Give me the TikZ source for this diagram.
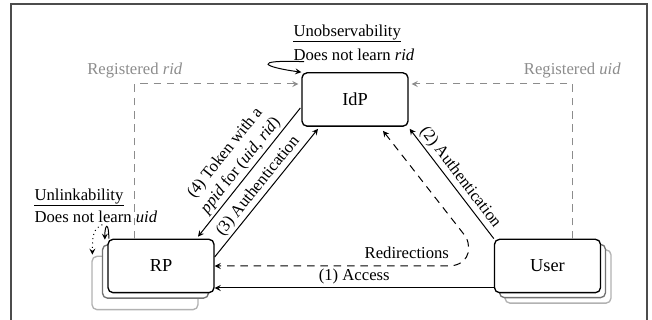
\documentclass[tikz,border=0pt]{standalone}
\usepackage{fontspec}
\setmainfont{Liberation Serif}
\usetikzlibrary{calc}

\begin{document}
\begin{tikzpicture}[>=stealth, x=0.6pt, y=-0.6pt, line width=0.6pt,
    party/.style={draw, line width=0.8pt, rounded corners=3pt, fill=white,
      minimum width=63.6pt, minimum height=32pt, font=\fontsize{11}{13}\selectfont},
    copyA/.style={party, draw=black!55},
    copyB/.style={party, draw=black!30},
    reg/.style={->, black!45, dash pattern=on 4.5pt off 3.5pt},
    redir/.style={<->, dash pattern=on 4.5pt off 3.5pt},
    note/.style={inner xsep=0pt, inner ysep=1pt},
    lbl/.style={sloped, above, inner sep=1.5pt}]
  \useasboundingbox (0,0) rectangle (652,320);

  % Frame, open at the bottom
  \draw[black!70, line width=0.8pt] (11,330) -- (11,4) -- (647,4) -- (647,330);

  % Parties
  \node[party] (idp) at (355,99.5) {IdP};

  \node[copyB] (rp3) at (145,283) {};
  \node[copyA] (rp2) at (155.5,271.5) {};
  \node[party] (rp) at (161,266) {RP};

  \node[copyB] (user3) at (558,276.5) {};
  \node[copyA] (user2) at (552.5,271) {};
  \node[party] (user) at (547.5,266) {User};

  % Properties
  \node[note, anchor=south west] (unobs) at (293,42) {Unobservability};
  \draw (unobs.south west) -- (unobs.south east);
  \node[anchor=base west, inner sep=0pt] (norid) at (293,61) {Does not learn \textit{rid}};
  \draw[->] ($(norid.south west)+(11,0)$) .. controls +(-54,-2) and +(-37,-5) .. (idp.north west);

  \node[note, anchor=south west] (unlink) at (34,206) {Unlinkability};
  \draw (unlink.south west) -- (unlink.south east);
  \node[anchor=base west, inner sep=0pt] (nouid) at (34,223) {Does not learn \textit{uid}};
  \draw[->] ($(rp.north west)+(1.5,0)$) .. controls +(0,-17) and +(0,-16) .. ($(rp.north west)+(-2.5,1)$);
  \draw[->, dotted] ($(rp3.north west)+(11,-31)$) .. controls +(-9,4) and +(0,-19) .. ($(rp3.north west)+(1,-1)$);

  % Registration
  \draw[reg] ($(rp.north west)+(27.5,0)$) |- node[pos=0.5, above] {Registered \textit{rid}} ($(idp.west)+(-3,-15.5)$);
  \draw[reg] ($(user.north west)+(78.5,0)$) |- node[pos=0.5, above] {Registered \textit{uid}} ($(idp.east)+(3,-15.5)$);

  % Protocol flow
  \draw[->] ($(user.west)+(0,22)$) -- node[above, inner sep=2pt] {(1) Access} ($(rp.east)+(0,22)$);
  \draw[<-] ($(idp.south east)+(1,2)$) -- node[lbl] {(2) Authentication} (user.north west);
  \draw[->] ($(rp.east)+(0,-9)$) -- node[lbl] {(3) Authentication} ($(idp.south)+(-37,2)$);
  \draw[<-] ($(rp.north)+(37,-2)$) -- node[lbl, align=center]
    {(4) Token with a\\\textit{ppid} for (\textit{uid}, \textit{rid})} ($(idp.west)+(-1,8.5)$);

  % Redirections
  \draw[redir] ($(idp.south)+(28,4)$) -- (466,237) .. controls (473,252) and (466,266) .. (448,266) -- (rp.east);
  \node[anchor=base east] (redirs) at (455,259) {Redirections};
\end{tikzpicture}
\end{document}
